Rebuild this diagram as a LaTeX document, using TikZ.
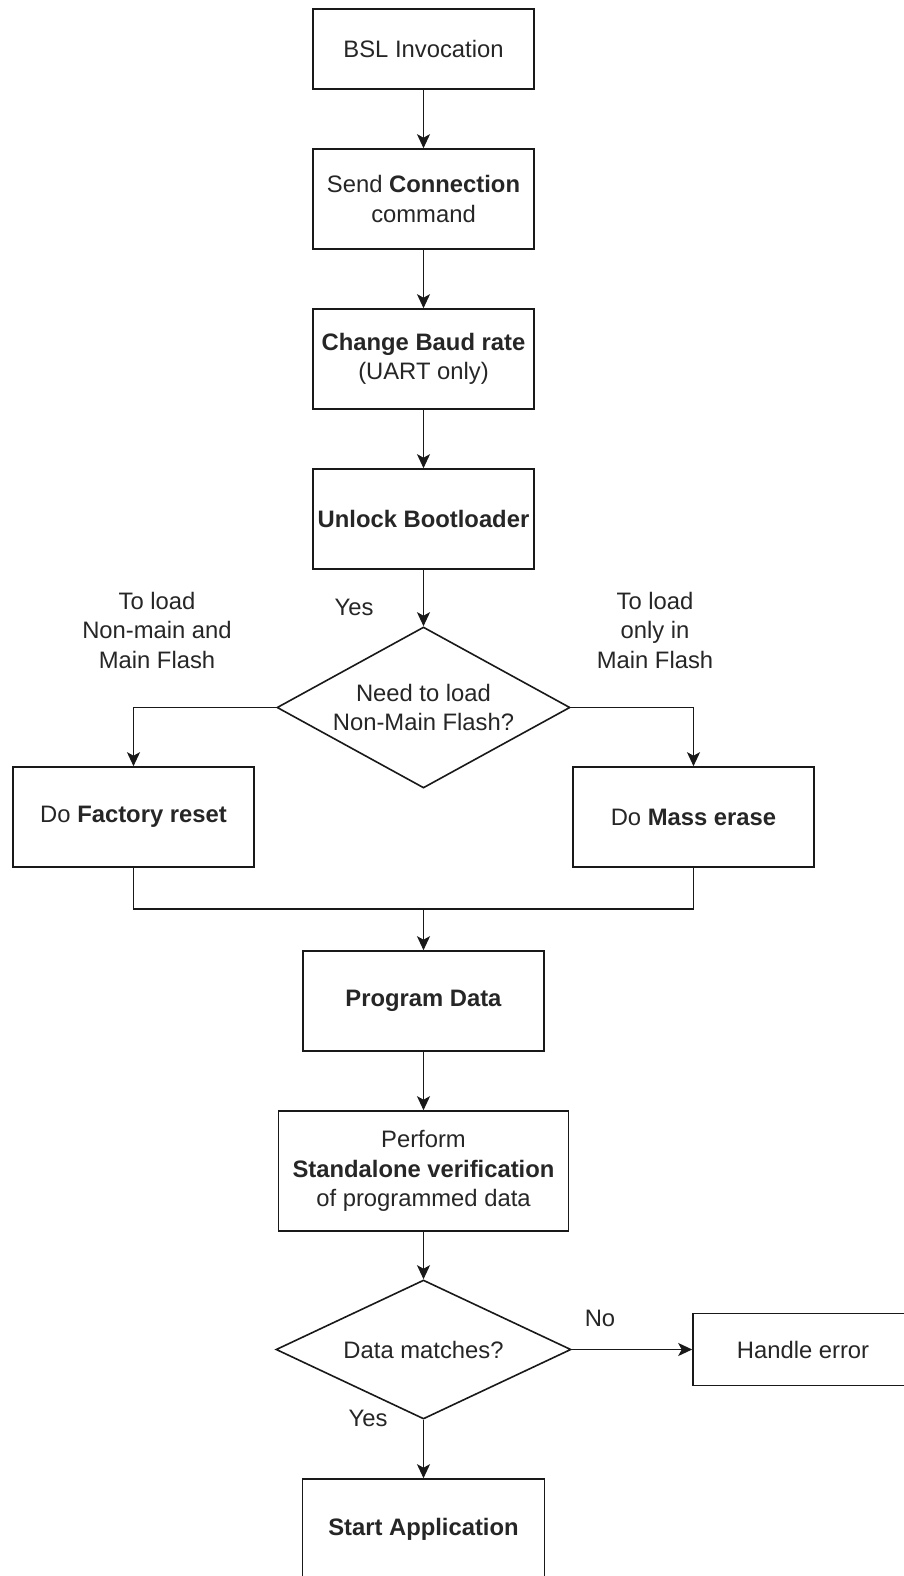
\documentclass[tikz,border=0pt]{standalone}
\usepackage{fontspec}
\setmainfont{Liberation Sans}
\usetikzlibrary{shapes.geometric,arrows.meta}
\begin{document}
\begin{tikzpicture}[x=1pt,y=-1pt,
  every node/.style={font=\fontsize{23.8}{29.5}\selectfont, text=black!85},
  box/.style={draw=black!90, line width=1.6pt, rectangle, inner sep=0pt, align=center},
  dia/.style={draw=black!90, line width=1.6pt, diamond, inner sep=0pt, align=center},
  lbl/.style={align=center, inner sep=0pt},
  arr/.style={draw=black!90, line width=1.8pt, -{Stealth[length=14pt,width=13pt,inset=3.5pt]}},
  ln/.style={draw=black!90, line width=1.8pt}]
\useasboundingbox (0,0) rectangle (904,1576);
\clip (0,0) rectangle (904,1576);
\fill[white] (0,0) rectangle (904,1576);

\node[box, minimum width=221pt, minimum height=80pt] (bsl) at (423.5,49) {BSL Invocation};
\node[box, minimum width=221pt, minimum height=100pt] (send) at (423.5,199) {Send \textbf{Connection}\\command};
\node[box, minimum width=221pt, minimum height=100pt] (baud) at (423.5,359) {\textbf{Change Baud rate}\\(UART only)};
\node[box, minimum width=221pt, minimum height=100pt] (unlock) at (423.5,519) {\textbf{Unlock Bootloader}};
\node[dia, aspect=1.82, minimum width=293pt, minimum height=161pt] (d1) at (423.5,707.5) {Need to load\\Non-Main Flash?};
\node[box, minimum width=241pt, minimum height=100pt] (factory) at (133.5,817) {Do \textbf{Factory reset}};
\node[box, minimum width=241pt, minimum height=100pt] (mass) at (693.5,817) {Do \textbf{Mass erase}};
\node[box, minimum width=241pt, minimum height=100pt] (prog) at (423.5,1001) {\textbf{Program Data}};
\node[box, minimum width=290pt, minimum height=120pt] (perform) at (423.5,1171) {Perform\\\textbf{Standalone verification}\\of programmed data};
\node[dia, aspect=2.12, minimum width=295pt, minimum height=139pt] (d2) at (423.5,1349.5) {Data matches?};
\node[box, minimum width=220pt, minimum height=72pt] (handle) at (803,1349.5) {Handle error};
\node[box, minimum width=242pt, minimum height=100pt] (start) at (423.5,1529) {\textbf{Start Application}};

\node[lbl] (yes1) at (354,607) {Yes};
\node[lbl] (lleft) at (157,630) {To load\\Non-main and\\Main Flash};
\node[lbl] (lright) at (655,630) {To load\\only in\\Main Flash};
\node[lbl] (no) at (600,1318) {No};
\node[lbl] (yes2) at (368,1418) {Yes};

\coordinate (m) at (423.5,909);

\draw[arr] (bsl) -- (send);
\draw[arr] (send) -- (baud);
\draw[arr] (baud) -- (unlock);
\draw[arr] (unlock.south) -- (d1.north);
\draw[arr] (d1.west) -| (factory.north);
\draw[arr] (d1.east) -| (mass.north);
\draw[ln] (factory.south) |- (m) -| (mass.south);
\draw[arr] (m) -- (prog.north);
\draw[arr] (prog) -- (perform);
\draw[arr] (perform.south) -- (d2.north);
\draw[arr] (d2.east) -- (handle.west);
\draw[arr] (d2.south) -- (start.north);
\end{tikzpicture}
\end{document}
